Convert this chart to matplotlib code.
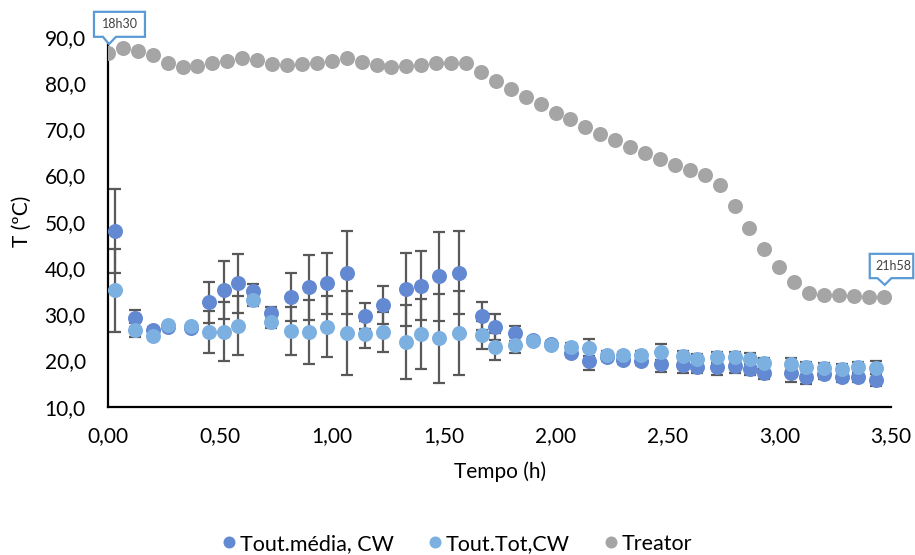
import matplotlib.pyplot as plt
import matplotlib.transforms as mtransforms
from matplotlib.patches import Polygon
from matplotlib.ticker import FuncFormatter

plt.rcParams['font.family'] = ['Lato', 'DejaVu Sans']

# tempos das medições de saída (h)
t_out = [0.03, 0.12, 0.20, 0.27, 0.37, 0.45, 0.52, 0.58, 0.65, 0.73,
         0.82, 0.90, 0.98, 1.07, 1.15, 1.23, 1.33, 1.40, 1.48, 1.57,
         1.67, 1.73, 1.82, 1.90, 1.98, 2.07, 2.15, 2.23, 2.30, 2.38,
         2.47, 2.57, 2.63, 2.72, 2.80, 2.87, 2.93, 3.05, 3.12, 3.20,
         3.28, 3.35, 3.43]

tout_media = [48.0, 29.1, 26.6, 27.2, 27.1, 32.6, 35.2, 36.7, 35.1, 30.2,
              33.8, 35.8, 36.7, 39.0, 29.7, 32.0, 35.4, 36.2, 38.2, 39.0,
              29.6, 27.3, 25.9, 24.4, 23.6, 21.6, 20.0, 20.7, 20.1, 19.8,
              19.3, 19.1, 18.5, 18.5, 18.9, 18.2, 17.4, 17.3, 16.5, 17.1,
              16.4, 16.4, 15.8]
err_media = [9.1, 1.8, 0.6, 0.4, 0.4, 4.4, 6.3, 6.4, 1.4, 1.3,
             5.2, 7.0, 6.6, 8.9, 2.8, 4.2, 7.9, 7.4, 9.6, 8.9,
             3.0, 2.8, 1.6, 0.6, 0.6, 0.8, 2.0, 0.8, 0.8, 0.8,
             1.8, 1.9, 1.2, 1.7, 1.5, 1.4, 1.4, 1.9, 1.6, 1.0,
             1.0, 1.0, 1.3]

tout_tot = [35.2, 26.6, 25.3, 27.7, 27.5, 26.2, 26.2, 27.5, 33.1, 28.4,
            26.4, 26.2, 27.3, 26.0, 25.7, 26.1, 24.1, 25.7, 24.8, 26.0,
            25.5, 23.0, 23.4, 24.3, 23.4, 22.9, 22.8, 21.2, 21.1, 21.2,
            21.9, 20.9, 20.4, 20.7, 20.7, 20.4, 19.4, 19.3, 18.7, 18.4,
            18.2, 18.6, 18.4]
err_tot = [9.0, 1.6, 0.6, 0.4, 0.4, 4.5, 6.4, 6.4, 1.4, 1.3,
           5.2, 6.9, 6.6, 9.1, 2.9, 4.3, 8.0, 7.5, 9.6, 9.1,
           3.0, 2.9, 1.7, 0.6, 0.6, 0.8, 1.9, 0.8, 0.8, 0.8,
           1.7, 1.2, 1.0, 1.2, 1.2, 1.2, 1.2, 1.3, 1.0, 1.0,
           1.0, 1.0, 1.4]

# reator: registo a cada 4 min (min desde as 18h30)
t_reator_min = [0, 4, 8, 12, 16, 20, 24, 28, 32, 36, 40, 44, 48, 52, 56,
                60, 64, 68, 72, 76, 80, 84, 88, 92, 96, 100, 104, 108, 112,
                116, 120, 124, 128, 132, 136, 140, 144, 148, 152, 156, 160,
                164, 168, 172, 176, 180, 184, 188, 192, 196, 200, 204, 208]
treator = [86.5, 87.5, 86.9, 86.0, 84.4, 83.5, 83.6, 84.2, 84.7, 85.3,
           84.9, 84.0, 83.8, 84.1, 84.4, 84.8, 85.3, 84.6, 83.8, 83.5,
           83.6, 83.8, 84.2, 84.4, 84.2, 82.4, 80.5, 78.7, 77.0, 75.4,
           73.6, 72.1, 70.5, 68.9, 67.6, 66.2, 64.9, 63.6, 62.2, 61.1,
           60.0, 58.0, 53.3, 48.6, 44.1, 40.3, 36.9, 34.5, 34.2, 34.2,
           34.0, 33.8, 33.7]
t_reator = [m / 60 for m in t_reator_min]

c_media = '#6389D2'
c_tot = '#7CB0E0'
c_reator = '#A5A5A5'
c_err = '#595959'

fig = plt.figure(figsize=(9.15, 5.55), dpi=100)
ax = fig.add_axes([0.118, 0.267, 0.856, 0.667])

ax.errorbar(t_out, tout_media, yerr=err_media, fmt='none', ecolor=c_err,
            elinewidth=1.6, capsize=4.5, capthick=1.6, zorder=2)
ax.errorbar(t_out, tout_tot, yerr=err_tot, fmt='none', ecolor=c_err,
            elinewidth=1.6, capsize=4.5, capthick=1.6, zorder=2)
ax.plot(t_out, tout_media, 'o', color=c_media, ms=10.8, mec='none',
        label='Tout.média, CW', zorder=3)
ax.plot(t_out, tout_tot, 'o', color=c_tot, ms=10.8, mec='none',
        label='Tout.Tot,CW', zorder=4)
ax.plot(t_reator, treator, 'o', color=c_reator, ms=10.8, mec='none',
        label='Treator', zorder=4)

ax.set_xlim(0, 3.5)
ax.set_ylim(10, 90)
ax.set_xticks([0, 0.5, 1, 1.5, 2, 2.5, 3, 3.5])
ax.set_yticks(range(10, 91, 10))
ax.xaxis.set_major_formatter(FuncFormatter(lambda v, p: f'{v:.2f}'.replace('.', ',')))
ax.yaxis.set_major_formatter(FuncFormatter(lambda v, p: f'{v:.1f}'.replace('.', ',')))
ax.tick_params(length=0, labelsize=15, colors='black')
ax.tick_params(axis='x', pad=14)
ax.tick_params(axis='y', pad=16)
for s in ['top', 'right']:
    ax.spines[s].set_visible(False)
for s in ['left', 'bottom']:
    ax.spines[s].set_linewidth(1.6)
    ax.spines[s].set_color('black')

ax.set_xlabel('Tempo (h)', fontsize=15, labelpad=11)
ax.set_ylabel('T (ºC)', fontsize=15, labelpad=9)


def callout(x, y, text, box, tip, base, txt):
    # caixa com ponteiro, desenhada em px relativos ao ponto
    trans = fig.dpi_scale_trans + mtransforms.ScaledTranslation(x, y, ax.transData)
    x0, x1, y0, y1 = box
    verts = [(x0, y0), (base[0], y0), tip, (base[1], y0), (x1, y0),
             (x1, y1), (x0, y1)]
    verts = [(vx / 100, vy / 100) for vx, vy in verts]
    poly = Polygon(verts, closed=True, fc='white', ec='#5B9BD5', lw=1.6,
                   transform=trans, clip_on=False, zorder=6)
    ax.add_patch(poly)
    ax.text(txt[0] / 100, txt[1] / 100, text, transform=trans, fontsize=9,
            color='#404040', ha='center', va='center', zorder=7)


callout(t_reator[0], treator[0], '18h30', (-14, 37, 16, 41), (1, 8.7),
        (-5, 8), (11.5, 28.5))
callout(t_reator[-1], treator[-1], '21h58', (-14, 29.5, 19, 43.3), (1, 12.3),
        (-6.3, 7.7), (10, 31))

fig.legend(loc='center', bbox_to_anchor=(0.5, 0.02), ncol=3, frameon=False,
           fontsize=15.5, markerscale=0.8, handlelength=0.6, handletextpad=0.2,
           columnspacing=1.6)

fig.savefig('out.png', dpi=100)
